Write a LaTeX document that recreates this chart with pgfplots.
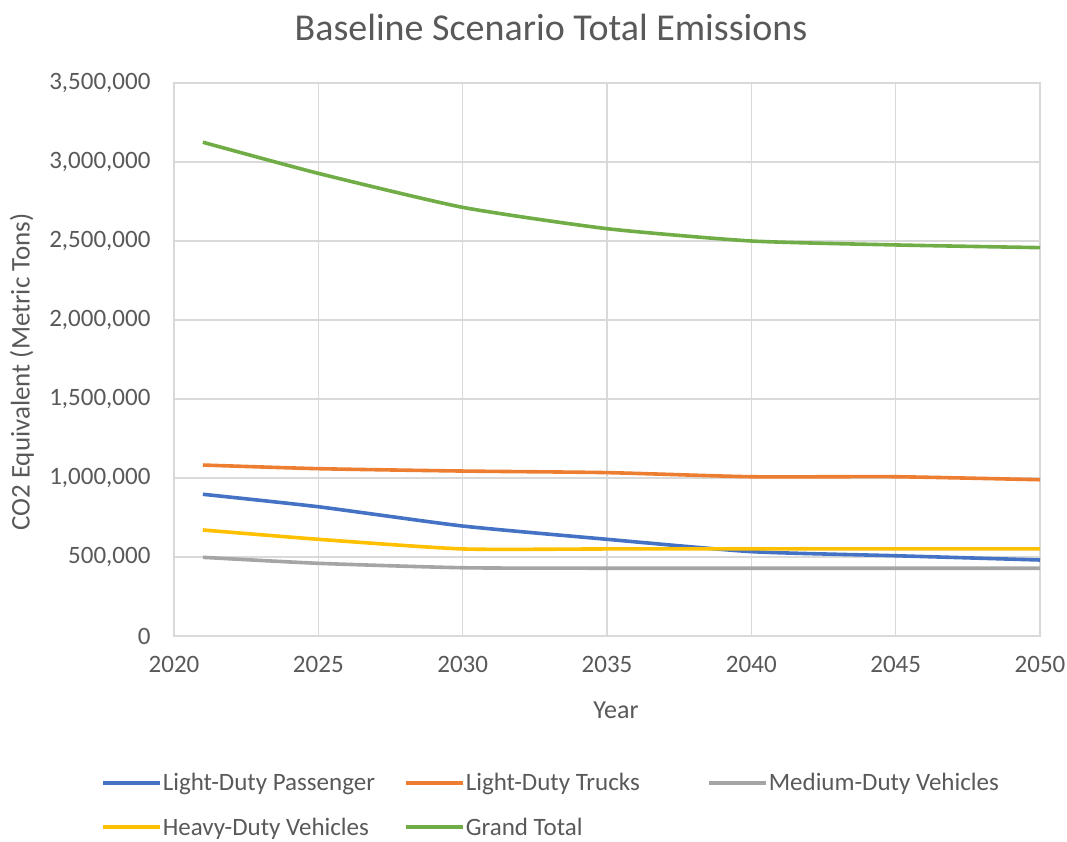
\documentclass[border=0pt]{standalone}
\usepackage{pgfplots}
\pgfplotsset{compat=1.18}
\usepackage{fontspec}
\setmainfont{Carlito}
\definecolor{txt}{HTML}{595959}
\definecolor{gridc}{HTML}{D9D9D9}
\definecolor{cblue}{HTML}{4472C4}
\definecolor{corange}{HTML}{ED7D31}
\definecolor{cgray}{HTML}{A5A5A5}
\definecolor{cyellow}{HTML}{FFC000}
\definecolor{cgreen}{HTML}{70AD47}
\begin{document}
\begin{tikzpicture}
\useasboundingbox (-174pt,-206pt) rectangle (893pt,636pt);
\begin{axis}[
  at={(0pt,0pt)}, anchor=south west,
  scale only axis, width=866pt, height=553pt,
  xmin=2020, xmax=2050, ymin=0, ymax=3500000,
  xtick={2020,2025,...,2050},
  ytick={0,500000,...,3500000},
  scaled y ticks=false,
  grid=major,
  grid style={gridc, line width=1.3pt},
  axis line style={gridc, line width=1.3pt},
  major tick length=0pt,
  tick style={draw=none},
  /pgf/number format/assume math mode=true,
  xticklabel style={font=\fontsize{25}{30}\selectfont, text=txt, /pgf/number format/1000 sep={}, yshift=-17pt},
  yticklabel style={font=\fontsize{25}{30}\selectfont, text=txt, /pgf/number format/fixed, /pgf/number format/1000 sep={,}, xshift=-20pt},
  legend columns=3,
  legend style={draw=none, fill=none, at={(-0.0845,-0.3056)}, anchor=west,
    inner sep=0pt, outer sep=0pt,
    nodes={inner xsep=1pt, inner ysep=0pt, text=txt, font=\fontsize{25}{30}\selectfont},
    row sep=26pt, column sep=0pt},
  legend cell align=left,
  legend image code/.code={\draw[#1, line width=4pt] (0pt,0pt) -- (57pt,0pt);},
  every axis plot/.append style={line width=3.6pt, smooth, tension=0.35},
]
\addplot[cblue] coordinates {(2021,897000) (2025,818000) (2030,696000) (2035,612000) (2040,534000) (2045,508000) (2050,481000)};
\addlegendentry{\makebox[240pt][l]{Light-Duty Passenger}}
\addplot[corange] coordinates {(2021,1082000) (2025,1059000) (2030,1044000) (2035,1034000) (2040,1008000) (2045,1008000) (2050,989000)};
\addlegendentry{\makebox[240pt][l]{Light-Duty Trucks}}
\addplot[cgray] coordinates {(2021,498000) (2025,460000) (2030,432000) (2035,429000) (2040,429000) (2045,429000) (2050,429000)};
\addlegendentry{Medium-Duty Vehicles}
\addplot[cyellow] coordinates {(2021,671000) (2025,612000) (2030,551000) (2035,551000) (2040,551000) (2045,551000) (2050,551000)};
\addlegendentry{\makebox[240pt][l]{Heavy-Duty Vehicles}}
\addplot[cgreen] coordinates {(2021,3125000) (2025,2928000) (2030,2713000) (2035,2578000) (2040,2500000) (2045,2475000) (2050,2458000)};
\addlegendentry{Grand Total}
\end{axis}
\node[text=txt, font=\fontsize{38}{44}\selectfont] at (377pt,609pt) {Baseline Scenario Total Emissions};
\node[text=txt, font=\fontsize{26}{30}\selectfont] at (442pt,-74pt) {Year};
\node[text=txt, font=\fontsize{27}{32}\selectfont, rotate=90] at (-152pt,264pt) {CO2 Equivalent (Metric Tons)};
\end{tikzpicture}
\end{document}
